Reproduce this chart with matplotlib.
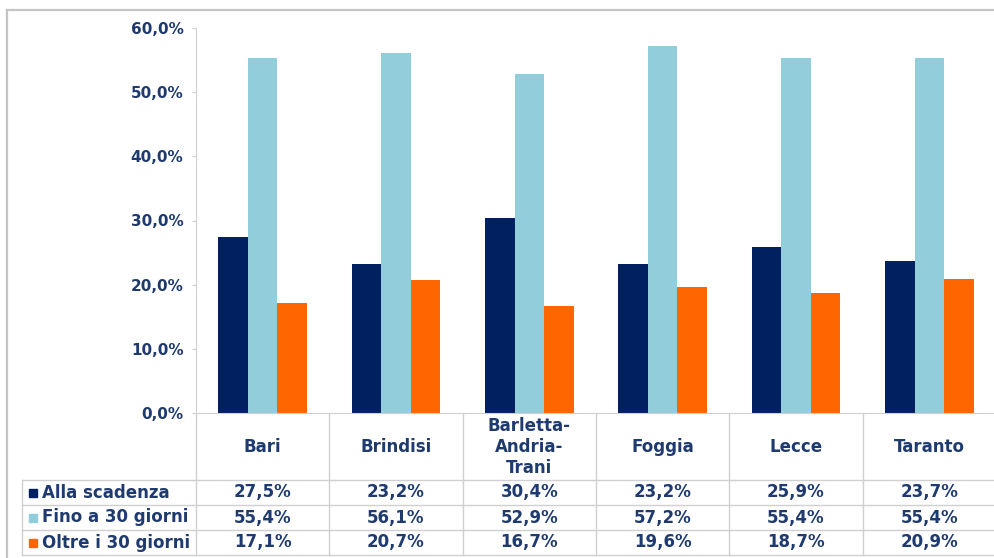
import matplotlib
matplotlib.use("Agg")
import matplotlib.pyplot as plt
import numpy as np
from matplotlib.lines import Line2D
from matplotlib.patches import Rectangle

categories = ["Bari", "Brindisi", "Barletta-\nAndria-\nTrani", "Foggia", "Lecce", "Taranto"]
series_names = ["Alla scadenza", "Fino a 30 giorni", "Oltre i 30 giorni"]
alla_scadenza = [27.5, 23.2, 30.4, 23.2, 25.9, 23.7]
fino_30 = [55.4, 56.1, 52.9, 57.2, 55.4, 55.4]
oltre_30 = [17.1, 20.7, 16.7, 19.6, 18.7, 20.9]
yticks = [0, 10, 20, 30, 40, 50, 60]

series = [alla_scadenza, fino_30, oltre_30]
colors = ["#002060", "#92CDDC", "#FF6600"]
text_color = "#1F3A6E"
grid_color = "#D0D0D0"

W, H = 995, 558
fig = plt.figure(figsize=(W / 100, H / 100), dpi=100)
plt.rcParams['font.family'] = ['DejaVu Sans']

def fx(x):
    return x / W
def fy(y):
    return 1 - y / H

ax_left, ax_right, ax_top, ax_bottom = 196, 996, 28, 413
ax = fig.add_axes([fx(ax_left), fy(ax_bottom), fx(ax_right) - fx(ax_left), fy(ax_top) - fy(ax_bottom)])
n = len(categories)
x = np.arange(n)
bw = 1 / 4.5
for i, (vals, c) in enumerate(zip(series, colors)):
    ax.bar(x + (i - 1) * bw, vals, width=bw, color=c, edgecolor='none')
ax.set_xlim(-0.5, n - 0.5)
ax.set_ylim(0, 60)
ax.set_yticks(yticks)
ax.set_yticklabels([f"{v:.1f}%".replace('.', ',') for v in yticks],
                   fontsize=11, fontweight='bold', color=text_color)
ax.tick_params(axis='y', length=3, color=grid_color, pad=6)
ax.set_xticks([])
for s in ['top', 'right']:
    ax.spines[s].set_visible(False)
ax.spines['left'].set_color(grid_color)
ax.spines['bottom'].set_color(grid_color)
ax.patch.set_alpha(0)

ov = fig.add_axes([0, 0, 1, 1])
ov.set_xlim(0, W)
ov.set_ylim(H, 0)
ov.axis('off')
ov.patch.set_alpha(0)

# outer border (top and left visible)
ov.add_line(Line2D([7, W + 5], [10, 10], color='#C4C4C4', lw=1.6))
ov.add_line(Line2D([7, 7], [10, H + 5], color='#C4C4C4', lw=1.6))

cw = (ax_right - ax_left) / n
row_tops = [480, 505, 530, 555]
for yy in row_tops:
    ov.add_line(Line2D([22, W + 5], [yy, yy], color=grid_color, lw=1))
ov.add_line(Line2D([22, 22], [480, 555], color=grid_color, lw=1))
for k in range(n):
    xx = ax_left + k * cw
    ov.add_line(Line2D([xx, xx], [ax_bottom, 555], color=grid_color, lw=1))

fs = 12
for k, cat in enumerate(categories):
    ov.text(ax_left + (k + 0.5) * cw, 447, cat, ha='center', va='center',
            fontsize=fs, fontweight='bold', color=text_color, linespacing=1.2)

for r, (name, vals, c) in enumerate(zip(series_names, series, colors)):
    yc = (row_tops[r] + row_tops[r + 1]) / 2
    ov.add_patch(Rectangle((29, yc - 4), 8, 8, color=c))
    ov.text(42, yc, name, ha='left', va='center', fontsize=fs,
            fontweight='bold', color=text_color)
    for k, v in enumerate(vals):
        ov.text(ax_left + (k + 0.5) * cw, yc, f"{v:.1f}%".replace('.', ','),
                ha='center', va='center', fontsize=fs, fontweight='bold', color=text_color)

fig.savefig("out.png", dpi=100, facecolor='white')
